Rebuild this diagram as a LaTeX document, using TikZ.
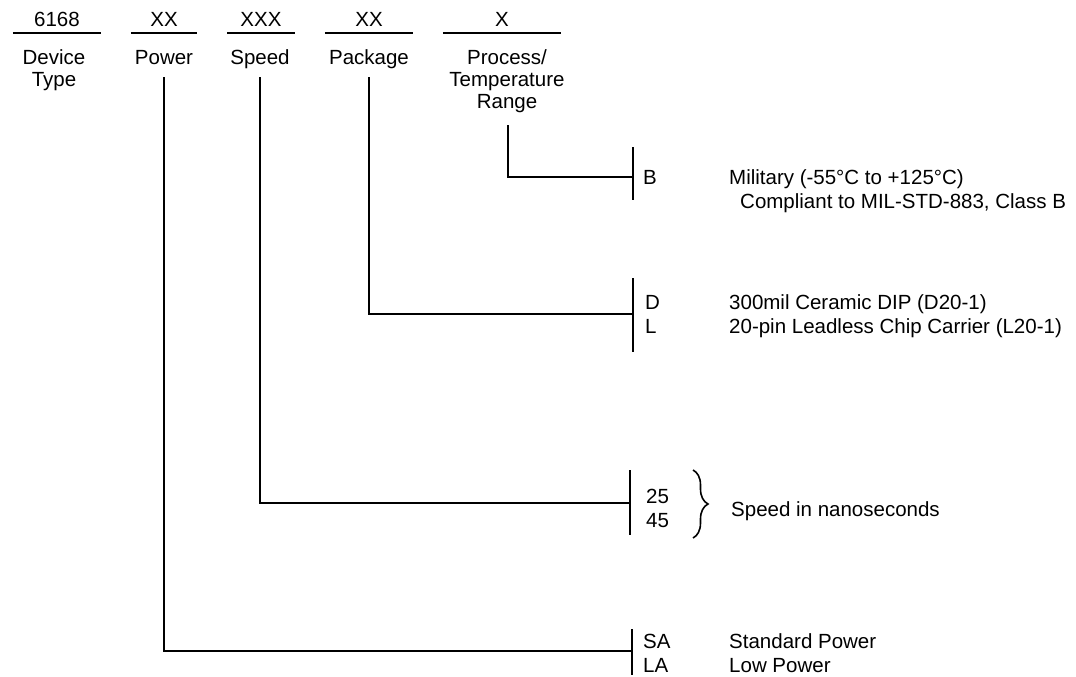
\documentclass[tikz,border=0pt]{standalone}
\usepackage{fontspec}
\setmainfont{Liberation Sans}
\usetikzlibrary{decorations.pathreplacing}

\begin{document}
\begin{tikzpicture}[x=1pt, y=-1pt,
    code/.style={inner sep=0pt, anchor=base, text depth=6pt, font=\fontsize{20.5}{24}\selectfont},
    field/.style={inner sep=0pt, anchor=base, align=center, font=\fontsize{20.5}{22}\selectfont},
    txt/.style={inner sep=0pt, anchor=base west, align=left, font=\fontsize{20.5}{24}\selectfont},
    rule/.style={line width=1.8pt},
    brc/.style={line width=1.6pt, decorate, decoration={brace, amplitude=15pt}}
  ]
    \useasboundingbox (0,0) rectangle (1076,677);

    % part number fields
    \node[code, minimum width=88] (c-dev) at (57,27)  {6168};
    \node[code, minimum width=66] (c-pwr) at (164,27) {XX};
    \node[code, minimum width=67] (c-spd) at (261,27) {XXX};
    \node[code, minimum width=88] (c-pkg) at (369,27) {XX};
    \node[code, minimum width=118] (c-prc) at (502,27) {X};
    \foreach \c in {c-dev,c-pwr,c-spd,c-pkg,c-prc}
      \draw[rule] (\c.south west) -- (\c.south east);

    % base of the last line
    \node[field] (device)  at (54,86)  {Device\\Type};
    \node[field] (power)   at (164,64) {Power};
    \node[field] (speed)   at (260,64) {Speed};
    \node[field] (package) at (369,64) {Package};
    \node[field] (process) at (507,108) {Process/\\Temperature\\Range};

    % option bars
    \coordinate (b-prc) at (633,177);
    \coordinate (b-pkg) at (633,314);
    \coordinate (b-spd) at (630,503);
    \coordinate (b-pwr) at (632,651);
    \draw[rule] (b-prc) ++(0,-30) -- ++(0,53);
    \draw[rule] (b-pkg) ++(0,-36) -- ++(0,74);
    \draw[rule] (b-spd) ++(0,-33) -- ++(0,65);
    \draw[rule] (b-pwr) ++(0,-22) -- ++(0,46);

    \draw[rule] (process.south) ++(1,13) |- (b-prc);
    \draw[rule] (package.south) ++(0,9) |- (b-pkg);
    \draw[rule] (speed.south) ++(0,9) |- (b-spd);
    \draw[rule] (power.south) ++(0,13) |- (b-pwr);

    % options
    \node[txt] (o-prc) at (643,184) {B};
    \node[txt] (o-pkg) at (645,333) {D\\L};
    \node[txt] (o-spd) at (646,527) {25\\45};
    \node[txt] (o-pwr) at (643,672) {SA\\LA};

    \node[txt] (d-prc) at (729,208) {Military (-55°C to +125°C)\\\hspace*{11pt}Compliant to MIL-STD-883, Class B};
    \node[txt] (d-pkg) at (729,333) {300mil Ceramic DIP (D20-1)\\20-pin Leadless Chip Carrier (L20-1)};
    \draw[brc] (693,470) -- (693,538);
    \node[txt] (d-spd) at (731,516) {Speed in nanoseconds};
    \node[txt] (d-pwr) at (729,672) {Standard Power\\Low Power};
  \end{tikzpicture}
\end{document}
